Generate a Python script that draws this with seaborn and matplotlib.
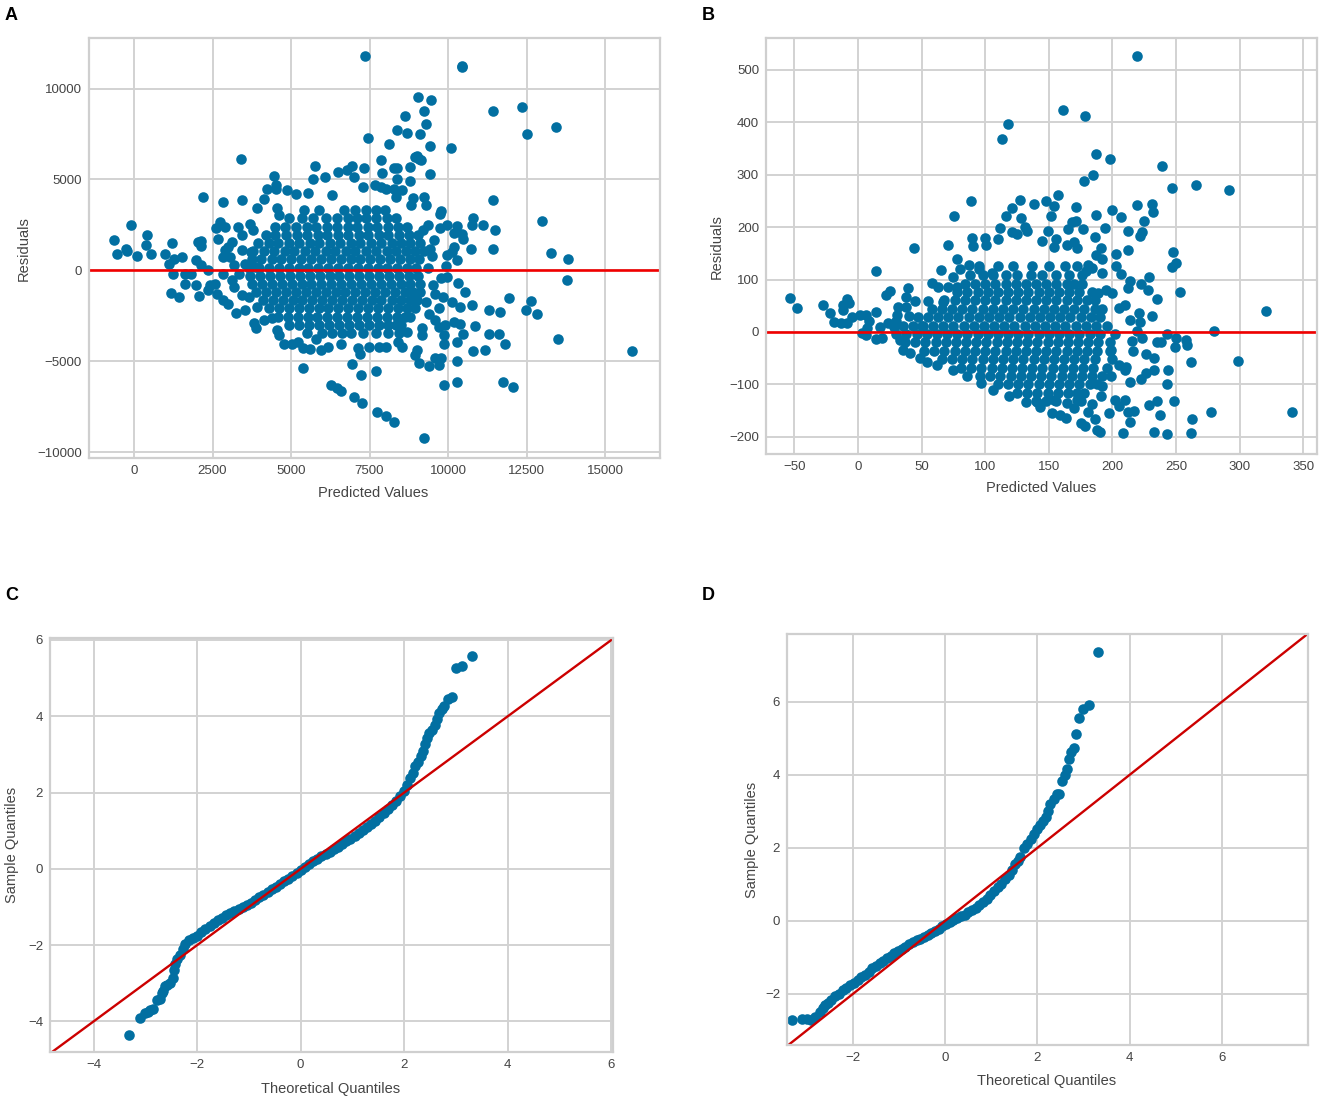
import pandas as pd
import matplotlib.pyplot as plt
import seaborn as sns

# panel A, residuals vs predicted
a_outer = [
    (7360, 11770), (10445, 11160), (10445, 11250), (9030, 9520), (9465, 9370), (11420, 8750), (12360, 8970),
    (13450, 7890), (12525, 7500), (9235, 8750), (8620, 8510), (9300, 8030), (8380, 7740), (8700, 7580),
    (9110, 7500), (7440, 7280), (8120, 6970), (9440, 6830), (10080, 6750), (3410, 6110), (9000, 6310),
    (8960, 6220), (9140, 6040), (9060, 6100), (7850, 6040), (5770, 5750), (6950, 5750), (7320, 5650), (8280, 5650),
    (8360, 5650), (8790, 5670), (5700, 5030), (6070, 5120), (6510, 5430), (6790, 5490), (6990, 5120),
    (7890, 5340), (9425, 5270), (4470, 5200), (8380, 5030), (8790, 4890), (4515, 4670), (4515, 4480),
    (4230, 4480), (4880, 4430), (2190, 4030), (2840, 3730), (3450, 3880), (3930, 3420), (4130, 3930),
    (4540, 3440), (4610, 3020), (5150, 4170), (5535, 4250), (6310, 4120), (7290, 4575), (7670, 4670),
    (7850, 4580), (8010, 4480), (8280, 4480), (8550, 4390), (8350, 4030), (8890, 3990), (9235, 4030),
    (9300, 3570), (8830, 3570), (11420, 3880), (9780, 3240), (9750, 3110), (13000, 2730), (10800, 2890),
    (11100, 2510), (11480, 2200), (10770, 2470), (10280, 2420), (10190, 2070), (10430, 2010), (10490, 1740),
    (9955, 2510), (9750, 2320), (10730, 1190), (11420, 1190), (13290, 950), (13820, 640), (13780, -510),
    (10190, 1280), (10120, 1000), (10280, 550), (9980, 820), (9930, 240), (9550, 1650), (9440, 1190),
    (9350, 2500), (9200, 2200), (9500, 800), (9350, 100),
    (-650, 1650), (-530, 880), (-245, 1190), (-220, 1060), (-80, 2490), (80, 790), (410, 1960), (370, 1410),
    (530, 880), (980, 880), (1220, 1480), (1115, 370), (1280, 640), (1520, 730), (1180, -1230), (1430, -1450),
    (1250, -220), (1620, -180), (1620, -770), (1830, -180), (1960, 550), (2040, 1560), (2135, 1340), (2135, 1610),
    (2070, -1410), (1960, -820), (2135, 270), (2370, 0), (2430, -820), (2570, -730), (2370, -1100), (2640, -1280),
    (2840, -1650), (3000, -1830), (3250, -2360), (3520, -2160), (3810, -2890), (3890, -3150), (2610, 2320),
    (2750, 2650), (2680, 1740), (2910, 2380), (3320, 2380), (3700, 2560), (3450, 1920), (3790, 2200), (2910, 1100),
    (2840, 730), (3110, 1560), (2980, 1280), (3050, 730), (2840, -180), (3110, -550), (3180, -915), (3450, -1370),
    (3450, 1100), (3520, 370), (3860, 180), (3730, 1000), (3660, -1460), (3920, -2010), (3180, 300), (3350, -200),
    (4130, -2745), (4400, -2650), (4540, -3290), (4610, -3570), (4770, -4030), (5020, -4030), (5220, -3930),
    (5390, -4300), (5600, -4340), (5970, -4390), (6170, -4210), (6580, -4080), (7130, -4300), (7195, -4610),
    (6950, -5140), (7235, -5760), (7710, -5530), (5370, -5380), (6270, -6310), (6450, -6460), (6580, -6620),
    (6990, -6990), (7260, -7320), (7740, -7810), (8010, -8020), (8280, -8330), (9235, -9240), (5800, -3800),
    (7470, -4210), (7810, -4210), (8010, -4210), (8420, -3930), (8550, -4210), (9000, -4390), (8960, -4670),
    (9070, -5120), (9400, -5270), (9570, -4850), (9710, -5215), (9780, -4850), (10280, -5000), (9870, -6310),
    (10280, -6150), (11750, -6150), (12080, -6400), (15860, -4450), (13490, -3770), (11830, -4080), (11170, -4390),
    (10810, -4450), (11610, -3530), (11300, -3530), (10490, -3530), (10850, -3070), (10280, -3930), (9870, -4030),
    (9870, -3570), (10190, -2840), (10390, -2930), (9910, -3020), (9710, -3110), (10770, -1900), (11300, -2160),
    (11670, -2290), (11950, -1520), (12630, -1680), (12470, -2160), (12840, -2380), (10530, -1190), (10320, -700),
    (9980, -365), (9780, -450), (10390, -2010), (10120, -1740), (9850, -1460), (9510, -820), (9570, -1280),
    (9300, -1740), (9710, -2100), (9570, -2745), (9170, -3200), (9170, -3570), (8690, -3390), (9400, -2400),
]
a_core_y = [3300, 2850, 2400, 1950, 1500, 1050, 600, 150, -300, -750, -1200, -1650, -2100, -2550, -3000, -3450]
a_core_x = [
    [5400, 5900, 6700, 7050, 7400, 7700, 8000],
    [4950, 5350, 5700, 6100, 6450, 6800, 7100, 7400, 7700, 8050, 8350],
    [4500, 4800, 5150, 5500, 5800, 6150, 6450, 6800, 7100, 7450, 7750, 8100, 8400, 8700],
    [4200, 4500, 4850, 5200, 5500, 5850, 6150, 6500, 6800, 7150, 7450, 7800, 8100, 8450, 8750, 9050],
    [3950, 4300, 4600, 4950, 5250, 5600, 5900, 6250, 6550, 6900, 7200, 7550, 7850, 8200, 8500, 8800, 9100],
    [3800, 4150, 4450, 4800, 5100, 5450, 5750, 6100, 6400, 6750, 7050, 7400, 7700, 8050, 8350, 8650, 8950, 9250],
    [3750, 4050, 4380, 4690, 5000, 5320, 5640, 5950, 6270, 6580, 6900, 7210, 7530, 7840, 8160, 8470, 8790, 9080],
    [3650, 3980, 4290, 4610, 4920, 5240, 5550, 5870, 6180, 6500, 6810, 7130, 7440, 7760, 8070, 8390, 8700, 8980],
    [3700, 4020, 4340, 4650, 4970, 5280, 5600, 5910, 6230, 6540, 6860, 7170, 7490, 7800, 8120, 8430, 8750, 9030],
    [3760, 4080, 4390, 4710, 5020, 5340, 5650, 5970, 6280, 6600, 6910, 7230, 7540, 7860, 8170, 8490, 8800, 9100],
    [3900, 4210, 4530, 4840, 5160, 5470, 5790, 6100, 6420, 6730, 7050, 7360, 7680, 7990, 8310, 8620, 8900, 9100],
    [4100, 4420, 4730, 5050, 5360, 5680, 5990, 6310, 6620, 6940, 7250, 7570, 7880, 8200, 8510, 8800, 9000],
    [4300, 4620, 4930, 5250, 5560, 5880, 6190, 6510, 6820, 7140, 7450, 7770, 8080, 8400, 8700, 8950],
    [4600, 4900, 5210, 5530, 5840, 6160, 6470, 6790, 7100, 7420, 7730, 8050, 8360, 8620, 8800],
    [4950, 5270, 5580, 5900, 6210, 6530, 6840, 7160, 7470, 7790, 8100, 8350, 8500],
    [5500, 6000, 6300, 6620, 6900, 7300, 7700, 8100, 8450],
]

# panel B, residuals vs predicted
b_outer = [
    (219.4, 527), (161, 424), (178.7, 413), (118, 397), (113.4, 368), (187, 339), (198, 331), (239, 317), (184.4, 299),
    (177.7, 288), (266, 280), (246.5, 275), (292, 270), (157, 261), (127, 251), (89, 249), (138.5, 245), (148, 249),
    (154, 240), (219.4, 243), (231, 245), (232, 228), (121, 236), (171, 238), (200, 233), (187, 224), (207, 219),
    (75.5, 222), (116, 222), (151.6, 222), (128, 217), (225, 211), (171, 212), (168, 209), (111.5, 198), (131, 201),
    (132.5, 193), (121, 190), (125, 187), (149, 193), (165, 196), (176.5, 196), (194, 198), (212.4, 193), (223, 190),
    (222, 184), (186, 182), (90, 180), (100, 180), (110, 177), (90.5, 164), (100.6, 166), (70.4, 166), (44.3, 161),
    (144.6, 174), (156, 177), (170, 171), (154, 163), (164, 166), (172, 160), (212.4, 156), (248, 153), (203, 148),
    (191, 160), (187, 147), (192, 140), (250, 131), (246.5, 123), (203, 125), (207, 111), (181, 128), (184, 122),
    (179, 117), (192, 112), (78, 140), (65, 118), (80, 121), (14, 116), (229, 105), (214, 97), (222.6, 92),
    (212.4, 84), (228, 80), (253.5, 76), (235, 62), (200, 74), (195, 80), (189, 74), (210, 51), (205, 45), (221, 36),
    (320.7, 39), (231, 31), (214, 22), (222, 18), (280, 2), (219, 2), (243, -4), (250, -12), (258, -15), (259, -25),
    (249, -28), (235, -20), (238, -20), (215.6, -18), (223, -12), (216, -37), (226.5, -42), (233, -50), (262, -58),
    (299, -55), (211, -66), (210, -72), (233, -72), (243.6, -72), (226.5, -79), (222.6, -90), (214, -95), (242.7, -100),
    (197, -155), (186, -167), (188, -187), (190, -191), (208.6, -193), (233, -191), (243, -195), (262, -193),
    (262.5, -167), (237.6, -158), (229, -140), (234.7, -132), (248.7, -132), (277.7, -153), (341, -153), (217, -151),
    (212.4, -153), (213.7, -172), (202, -130), (205, -142), (210, -130), (175, -174), (178.7, -179), (163.7, -165),
    (159, -158), (152.6, -154), (143, -144), (181, -152), (170, -146), (191, -123), (192, -104), (199, -85), (205, -63),
    (199, -34), (154, -130), (164, -136), (141, -133), (172, -130), (184, -138),
    (-53.5, 65.5), (-48, 46), (-27.4, 51.5), (-21.7, 36), (-18.5, 18), (-13, 17), (-9, 17), (-12, 51.5), (-9, 63),
    (-7.3, 55), (-11.5, 42), (-5, 29), (1.3, 32), (6, 32), (9, 20), (14, 37.5), (3, -2.5), (6, -6), (14, -14), (19, -12),
    (7, 8), (22, 70.6), (25, 78), (31.5, 48), (30.6, 32), (39.5, 83), (38, 67), (38, 48), (45, 59), (55.4, 59), (58, 94),
    (63, 86), (66.6, 58), (74.5, 105), (71, 86), (78, 86), (87, 128), (95, 121), (105, 112), (33, -15), (35, -34),
    (41, -41), (49, -50), (54, -57), (62, -63), (74.5, -72), (85.7, -85), (97, -98), (106, -111), (119, -123), (132, -133),
    (28, 10), (23.6, 16.5), (17, 10), (30, 20), (40, 30), (50, 12),
]
b_core_y = [125, 108, 92, 76, 60, 44, 28, 12, -4, -20, -36, -52, -68, -84, -100, -116, -132]
b_core_x = [
    [95, 110, 122, 137, 150, 163, 172],
    [88, 98, 106, 116, 125, 136, 145, 156, 166, 176],
    [84, 92, 100, 108, 116, 124, 132, 140, 148, 156, 164, 170, 176],
    [78, 86, 94, 102, 110, 118, 126, 134, 142, 150, 158, 166, 174, 184],
    [68, 76, 84, 92, 100, 108, 116, 124, 132, 140, 148, 156, 164, 172, 180, 186],
    [58, 66, 74, 82, 90, 98, 106, 114, 122, 130, 138, 146, 154, 162, 170, 178, 186, 192],
    [47, 55, 63, 71, 79, 87, 95, 103, 111, 119, 127, 135, 143, 151, 159, 167, 175, 183, 190],
    [35, 43, 51, 59, 67, 75, 83, 91, 99, 107, 115, 123, 131, 139, 147, 155, 163, 171, 179, 187, 196],
    [30, 38, 46, 54, 62, 70, 78, 86, 94, 102, 110, 118, 126, 134, 142, 150, 158, 166, 174, 182, 190, 202],
    [37, 45, 53, 61, 69, 77, 85, 93, 101, 109, 117, 125, 133, 141, 149, 157, 165, 173, 181, 189, 198],
    [52, 60, 68, 76, 84, 92, 100, 108, 116, 124, 132, 140, 148, 156, 164, 172, 180, 188, 198],
    [66, 74, 82, 90, 98, 106, 114, 122, 130, 138, 146, 154, 162, 170, 178, 186, 200],
    [81, 89, 97, 105, 113, 121, 129, 137, 145, 153, 161, 169, 177, 185, 196],
    [96, 104, 112, 120, 128, 136, 144, 152, 160, 168, 176, 184, 192],
    [110, 118, 126, 134, 142, 150, 158, 166, 174, 182, 188],
    [125, 133, 141, 149, 157, 165, 172, 178],
    [140, 148, 156, 175],
]

# panel C, Q-Q
c_theoretical = [
    -3.31, -3.11, -3.00, -2.95, -2.90, -2.85, -2.78, -2.72, -2.68, -2.65, -2.62, -2.58, -2.53, -2.47, -2.45, -2.42,
    -2.38, -2.33, -2.28, -2.24, -2.15, -2.08, -2.00, -1.92, -1.84, -1.76, -1.68, -1.60, -1.52, -1.44, -1.36, -1.28,
    -1.20, -1.12, -1.04, -0.96, -0.88, -0.80, -0.72, -0.64, -0.56, -0.48, -0.40, -0.32, -0.24, -0.16, -0.08, 0.00,
    0.08, 0.16, 0.24, 0.32, 0.40, 0.48, 0.56, 0.64, 0.72, 0.80, 0.88, 0.96, 1.04, 1.12, 1.20, 1.28, 1.36, 1.44, 1.52,
    1.60, 1.68, 1.76, 1.84, 1.92, 2.00, 2.05, 2.12, 2.16, 2.20, 2.26, 2.32, 2.36, 2.40, 2.44, 2.48, 2.54, 2.59, 2.63,
    2.67, 2.72, 2.76, 2.84, 2.92, 3.00, 3.12, 3.31,
]
c_sample = [
    -4.36, -3.91, -3.78, -3.75, -3.70, -3.66, -3.45, -3.42, -3.25, -3.20, -3.08, -3.05, -2.98, -2.85, -2.65, -2.50,
    -2.35, -2.25, -2.10, -1.98, -1.87, -1.81, -1.75, -1.66, -1.58, -1.50, -1.42, -1.35, -1.28, -1.20, -1.15, -1.10,
    -1.05, -1.00, -0.95, -0.89, -0.82, -0.75, -0.68, -0.61, -0.54, -0.47, -0.40, -0.33, -0.26, -0.19, -0.11, -0.04,
    0.05, 0.12, 0.20, 0.27, 0.33, 0.38, 0.44, 0.51, 0.58, 0.65, 0.72, 0.79, 0.87, 0.94, 1.02, 1.10, 1.18, 1.26, 1.35,
    1.47, 1.57, 1.68, 1.78, 1.90, 2.05, 2.20, 2.38, 2.52, 2.69, 2.80, 2.95, 3.08, 3.26, 3.42, 3.56, 3.65, 3.78, 3.92,
    4.09, 4.18, 4.26, 4.46, 4.51, 5.27, 5.31, 5.57,
]

# panel D, Q-Q
d_theoretical = [
    -3.32, -3.10, -3.00, -2.91, -2.82, -2.72, -2.66, -2.60, -2.53, -2.47, -2.38, -2.30, -2.22, -2.14, -2.06, -1.98,
    -1.90, -1.82, -1.74, -1.66, -1.58, -1.50, -1.42, -1.34, -1.26, -1.18, -1.10, -1.02, -0.94, -0.86, -0.78, -0.70,
    -0.62, -0.54, -0.46, -0.38, -0.30, -0.22, -0.14, -0.06, 0.02, 0.10, 0.18, 0.26, 0.34, 0.42, 0.50, 0.58, 0.66, 0.74,
    0.82, 0.90, 0.98, 1.06, 1.14, 1.22, 1.30, 1.38, 1.46, 1.52, 1.57, 1.62, 1.70, 1.78, 1.86, 1.92, 2.00, 2.06, 2.12,
    2.18, 2.23, 2.28, 2.36, 2.43, 2.47, 2.54, 2.60, 2.65, 2.69, 2.73, 2.79, 2.83, 2.91, 3.00, 3.11, 3.31,
]
d_sample = [
    -2.72, -2.70, -2.70, -2.71, -2.63, -2.50, -2.40, -2.31, -2.25, -2.16, -2.07, -1.99, -1.90, -1.84, -1.76, -1.69,
    -1.62, -1.54, -1.47, -1.39, -1.30, -1.23, -1.16, -1.09, -1.03, -0.96, -0.88, -0.82, -0.76, -0.71, -0.64, -0.58,
    -0.53, -0.49, -0.43, -0.38, -0.32, -0.27, -0.22, -0.15, -0.09, -0.03, 0.03, 0.08, 0.13, 0.17, 0.24, 0.30, 0.36, 0.44,
    0.52, 0.60, 0.70, 0.82, 0.92, 1.02, 1.14, 1.27, 1.40, 1.55, 1.65, 1.75, 2.00, 2.12, 2.25, 2.37, 2.52, 2.63, 2.73,
    2.85, 3.00, 3.19, 3.35, 3.47, 3.47, 3.83, 4.00, 4.16, 4.43, 4.64, 4.75, 5.12, 5.57, 5.80, 5.91, 7.36,
]

x_ticks_a = [0, 2500, 5000, 7500, 10000, 12500, 15000]
y_ticks_a = [-10000, -5000, 0, 5000, 10000]
x_ticks_b = [-50, 0, 50, 100, 150, 200, 250, 300, 350]
y_ticks_b = [-200, -100, 0, 100, 200, 300, 400, 500]
x_ticks_c = [-4, -2, 0, 2, 4, 6]
y_ticks_c = [-4, -2, 0, 2, 4, 6]
x_ticks_d = [-2, 0, 2, 4, 6]
y_ticks_d = [-2, 0, 2, 4, 6]

BLUE = '#026fa1'
W, H = 1325, 1104

sns.set_style('whitegrid')
plt.rcParams['font.family'] = ['Liberation Sans Narrow', 'Liberation Sans', 'DejaVu Sans']
plt.rcParams['axes.edgecolor'] = '#cfcfcf'
plt.rcParams['grid.color'] = '#d2d2d2'
plt.rcParams['text.color'] = '#444444'
plt.rcParams['xtick.color'] = '#444444'
plt.rcParams['ytick.color'] = '#444444'
plt.rcParams['axes.labelcolor'] = '#444444'


def residual_frame(outer, core_x, core_y):
    core = pd.DataFrame({'pred': core_x, 'resid': core_y}).explode('pred')
    outer = pd.DataFrame(outer, columns=['pred', 'resid'])
    return pd.concat([core, outer]).astype(float)


def make_axes(left, right, top, bottom):
    return fig.add_axes([left / W, 1 - bottom / H, (right - left) / W, (bottom - top) / H])


def style_axes(ax, xticks, yticks, xlim, ylim, xlabel, ylabel, xpos, ypos):
    ax.set_xticks(xticks)
    ax.set_yticks(yticks)
    ax.set_xlim(xlim)
    ax.set_ylim(ylim)
    ax.grid(True, lw=1.4)
    ax.set_axisbelow(True)
    for s in ax.spines.values():
        s.set_linewidth(1.6)
    ax.tick_params(length=0, labelsize=9.5, pad=5)
    ax.set_xlabel(xlabel, fontsize=10.5, va='center')
    ax.set_ylabel(ylabel, fontsize=10.5, va='center', family='Liberation Sans')
    ax.xaxis.set_label_coords(*xpos)
    ax.yaxis.set_label_coords(*ypos)


fig = plt.figure(figsize=(W / 100, H / 100), dpi=100)

# A
ax = make_axes(89, 660, 38, 458)
sns.scatterplot(data=residual_frame(a_outer, a_core_x, a_core_y), x='pred', y='resid', ax=ax,
                color=BLUE, s=58, linewidth=0)
ax.axhline(0, color='#f00000', lw=1.9)
style_axes(ax, x_ticks_a, y_ticks_a, (-1433, 16750), (-10330, 12780), 'Predicted Values', 'Residuals',
           (0.498, -0.083), (-0.114, 0.498))

# B
ax = make_axes(766, 1317, 38, 454)
sns.scatterplot(data=residual_frame(b_outer, b_core_x, b_core_y), x='pred', y='resid', ax=ax,
                color=BLUE, s=58, linewidth=0)
ax.axhline(0, color='#f00000', lw=1.9)
style_axes(ax, x_ticks_b, y_ticks_b, (-72.3, 360.8), (-233, 561), 'Predicted Values', 'Residuals',
           (0.499, -0.082), (-0.09, 0.498))

# C
ax = make_axes(50, 613, 638, 1052)
sns.scatterplot(x=c_theoretical, y=c_sample, ax=ax, color=BLUE, s=58, linewidth=0)
ax.axline((0, 0), slope=1, color='#cc0000', lw=1.7)
style_axes(ax, x_ticks_c, y_ticks_c, (-4.84, 6.03), (-4.8, 6.05), 'Theoretical Quantiles', 'Sample Quantiles',
           (0.499, -0.089), (-0.0675, 0.5))

# D
ax = make_axes(787, 1308, 634, 1045)
sns.scatterplot(x=d_theoretical, y=d_sample, ax=ax, color=BLUE, s=58, linewidth=0)
ax.axline((0, 0), slope=1, color='#cc0000', lw=1.7)
style_axes(ax, x_ticks_d, y_ticks_d, (-3.43, 7.87), (-3.4, 7.86), 'Theoretical Quantiles', 'Sample Quantiles',
           (0.498, -0.0876), (-0.067, 0.498))

for label, px, py in [('A', 5, 16), ('B', 702, 15), ('C', 5, 596), ('D', 702, 596)]:
    fig.text(px / W, 1 - py / H, label, fontsize=13, fontweight='bold', color='black',
             family='Liberation Sans', va='center')

fig.savefig('out.png', dpi=100)
